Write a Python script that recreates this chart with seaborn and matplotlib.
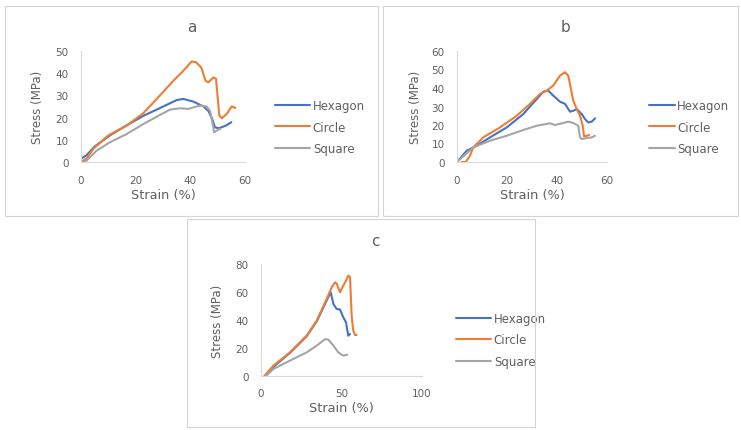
import seaborn as sns
import numpy as np
import pandas as pd
import matplotlib.pyplot as plt
from matplotlib.patches import Rectangle

# Datos
a_hex_x = [0, 2, 5, 10.6, 16.7, 23, 28.9, 35, 37.5, 41.1, 44.8, 46.6, 48, 49, 50.5, 53, 55]
a_hex_y = [1.5, 3, 7, 12, 16.5, 20.9, 24.3, 27.9, 28.4, 27.2, 25, 23, 19.4, 15.6, 15.2, 16.4, 17.9]
a_cir_x = [0, 2, 4.5, 10, 16.7, 22.8, 28.9, 33.8, 37, 40.5, 42, 44, 45.6, 46.6, 48.4, 49.4, 50.6, 51.5, 53.3, 55.1, 56.5]
a_cir_y = [0, 1.5, 5.9, 12, 16.4, 22, 30, 36.6, 40.5, 45.3, 45, 42.6, 36.6, 35.9, 38.1, 37.5, 21, 19.7, 21.6, 25, 24.4]
a_squ_x = [0, 1.5, 5.7, 10.6, 16.7, 22.8, 28.9, 32.6, 36.2, 39.3, 41.1, 43.5, 46, 47.2, 48.2, 48.7, 49.6, 50.9]
a_squ_y = [0, 0, 5.1, 8.9, 12.6, 17.1, 21.2, 23.6, 24.2, 23.9, 24.6, 25.4, 25, 23, 17, 13.4, 14.1, 14.9]

b_hex_x = [0, 3.9, 7.9, 13.2, 19.9, 26.5, 31.9, 34.5, 36.5, 38.5, 41.2, 43.2, 45.2, 46.5, 47.9, 49.9, 51.2, 52.5, 53.9, 55.2]
b_hex_y = [0, 6.1, 8.8, 13.3, 18.7, 25.9, 34, 38, 38.6, 35.9, 32.6, 31.4, 27.2, 27.7, 28.6, 25.9, 23.2, 21.4, 21.8, 23.6]
b_cir_x = [2, 3.5, 5.2, 6.5, 10.5, 17.2, 23.9, 29.2, 33.2, 35.9, 38.5, 41.2, 43.2, 44.5, 46.5, 47.9, 49.2, 50.3, 50.8, 51.9, 52.9]
b_cir_y = [0, 0, 3.4, 7.9, 13.3, 18.7, 25, 31.4, 36.8, 38.6, 41.3, 46.7, 48.5, 46.7, 33.2, 28.6, 25, 19.6, 13.9, 14.2, 14.6]
b_squ_x = [0, 6.5, 13.2, 19.9, 26.5, 31.9, 37.2, 39.2, 41.9, 44.5, 46.5, 48.5, 49.2, 49.9, 51.9, 53.9, 55.2]
b_squ_y = [0, 7.9, 11.5, 14.2, 17.3, 19.6, 20.9, 20, 20.9, 21.8, 21.1, 19.6, 13.3, 12.4, 13, 13.3, 14.2]

c_hex_x = [3, 7.7, 18, 28.4, 34.6, 40.8, 43.3, 45, 47, 49.1, 51.1, 52.8, 54.2, 55.3]
c_hex_y = [0, 6.5, 16.5, 28.5, 39, 54, 59.8, 51.4, 47.9, 47.5, 41.9, 38.3, 28.8, 30]
c_cir_x = [2, 7.7, 18, 28.4, 34.6, 40.8, 43.9, 46, 47, 49.1, 51.1, 52.8, 54.2, 55.3, 56.3, 57.3, 58.4, 59.4]
c_cir_y = [0, 7.4, 16.9, 28.8, 39.5, 55, 63.3, 66.9, 66, 59.8, 64.5, 68.1, 71.7, 70.7, 43.1, 32.4, 29.3, 29.3]
c_squ_x = [3, 7.7, 18, 28.4, 34.6, 39.8, 41.8, 45, 48, 51.1, 53.6]
c_squ_y = [0, 5, 11, 16.9, 21.7, 26.4, 26, 21.7, 16.9, 14.5, 15.2]

shapes = ["Hexagon", "Circle", "Square"]
colores = ["#4472C4", "#ED7D31", "#A5A5A5"]

paneles = {
    "a": [(a_hex_x, a_hex_y), (a_cir_x, a_cir_y), (a_squ_x, a_squ_y)],
    "b": [(b_hex_x, b_hex_y), (b_cir_x, b_cir_y), (b_squ_x, b_squ_y)],
    "c": [(c_hex_x, c_hex_y), (c_cir_x, c_cir_y), (c_squ_x, c_squ_y)],
}

# Límites y ticks de cada panel
xlims = {"a": (0, 60), "b": (0, 60), "c": (0, 100)}
xticks = {"a": [0, 20, 40, 60], "b": [0, 20, 40, 60], "c": [0, 50, 100]}
ylims = {"a": (0, 50), "b": (0, 60), "c": (0, 80)}
yticks = {"a": range(0, 51, 10), "b": range(0, 61, 10), "c": range(0, 81, 20)}

# Posiciones en píxeles
W, H = 741, 431
ejes_px = {"a": (81, 245, 52, 163), "b": (457, 607, 52, 163), "c": (261, 422, 265, 377)}
caja_px = {"a": (5, 378, 7, 217), "b": (383, 738, 7, 217), "c": (187, 535, 220, 428)}
titulo_px = {"a": (192, 28), "b": (565, 28), "c": (375, 242)}
ylab_x = {"a": 38, "b": 415, "c": 218}
xlab_y = {"a": 195, "b": 195, "c": 409}
leyenda_px = {"a": (275, 128), "b": (649, 128), "c": (456, 341)}
mango = {"a": 3.0, "b": 2.2, "c": 3.0}

sns.set_style("white")
plt.rcParams["font.family"] = ["DejaVu Sans"]
gris = "#606060"

fig = plt.figure(figsize=(W / 100, H / 100), dpi=100)

for k in ["a", "b", "c"]:
    x0, x1, y0, y1 = caja_px[k]
    fig.patches.append(Rectangle((x0 / W, 1 - y1 / H), (x1 - x0) / W, (y1 - y0) / H,
                                 transform=fig.transFigure, fill=False,
                                 edgecolor="#D4D4D4", linewidth=0.8))

    l, r, t, b = ejes_px[k]
    ax = fig.add_axes([l / W, 1 - b / H, (r - l) / W, (b - t) / H])

    filas = []
    for s, (xs, ys) in zip(shapes, paneles[k]):
        for xv, yv in zip(xs, ys):
            filas.append({"Strain": xv, "Stress": yv, "Shape": s})
    df = pd.DataFrame(filas)

    sns.lineplot(data=df, x="Strain", y="Stress", hue="Shape", hue_order=shapes,
                 palette=colores, sort=False, estimator=None, linewidth=1.5, ax=ax)

    ax.set_xlim(*xlims[k])
    ax.set_ylim(*ylims[k])
    ax.set_xticks(xticks[k])
    ax.set_yticks(list(yticks[k]))
    ax.tick_params(length=0, labelsize=7.5, colors=gris, pad=9)
    sns.despine(ax=ax)
    for sp in ["left", "bottom"]:
        ax.spines[sp].set_color("#D9D9D9")
        ax.spines[sp].set_linewidth(0.8)

    ax.set_xlabel("Strain (%)", fontsize=9.3, color=gris, va="center")
    ax.set_ylabel("Stress (MPa)", fontsize=8.5, color=gris, va="center")
    ax.xaxis.set_label_coords(0.5, (b - xlab_y[k]) / (b - t))
    ax.yaxis.set_label_coords((ylab_x[k] - l) / (r - l), 0.5)

    tx, ty = titulo_px[k]
    fig.text(tx / W, 1 - ty / H, k, fontsize=11, color=gris, ha="center", va="center")

    lx, ly = leyenda_px[k]
    ax.legend(loc="center left", bbox_to_anchor=(lx / W, 1 - ly / H),
              bbox_transform=fig.transFigure, frameon=False, fontsize=8.5,
              labelcolor=gris, handlelength=mango[k], handletextpad=0.2,
              labelspacing=0.72, borderpad=0, borderaxespad=0)

fig.savefig("out.png", dpi=100)
